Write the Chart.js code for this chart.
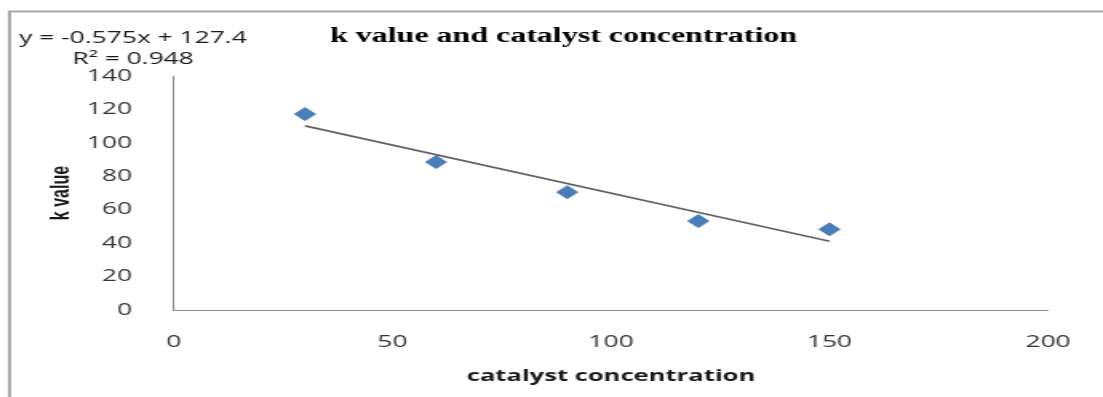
<!DOCTYPE html>
<html>
<head>
<meta charset="utf-8">
<title>k value and catalyst concentration</title>
<script src="https://cdn.jsdelivr.net/npm/chart.js@4.4.1/dist/chart.umd.min.js"></script>
<style>
  html, body { margin: 0; padding: 0; background: #ffffff; overflow: hidden; }
  #wrap { position: absolute; left: 0; top: 0; transform-origin: 0 0; }
  canvas { display: block; }
</style>
</head>
<body>
<div id="wrap"><canvas id="chart"></canvas></div>
<script>
// Measured data
const catalystConcentration = [30, 60, 90, 120, 150];
const kValue = [117.2, 88.5, 70.5, 53.2, 48.3];

// Linear trendline as reported on the chart
const trendSlope = -0.575;
const trendIntercept = 127.4;
const trendR2 = 0.948;

// Axis ticks
const xTicks = [0, 50, 100, 150, 200];
const yTicks = [0, 20, 40, 60, 80, 100, 120, 140];

const chartTitle = 'k value and catalyst concentration';
const xAxisTitle = 'catalyst concentration';
const yAxisTitle = 'k value';

// Drawing surface (the picture is widened horizontally)
const W = 690, H = 397, PAGE_W = 1103;
const STRETCH = PAGE_W / W;

const wrap = document.getElementById('wrap');
const canvas = document.getElementById('chart');
canvas.width = W; canvas.height = H;
canvas.style.width = W + 'px'; canvas.style.height = H + 'px';
wrap.style.width = W + 'px'; wrap.style.height = H + 'px';
wrap.style.transform = 'scaleX(' + STRETCH + ')';

const PLOT_LEFT = 108.8, PLOT_RIGHT = 655.6, PLOT_TOP = 76, PLOT_BOTTOM = 310;

const points = catalystConcentration.map((x, i) => ({ x: x, y: kValue[i] }));
const xFirst = catalystConcentration[0];
const xLast = catalystConcentration[catalystConcentration.length - 1];
const trendPoints = [
  { x: xFirst, y: trendSlope * xFirst + trendIntercept },
  { x: xLast, y: trendSlope * xLast + trendIntercept }
];

const equationLines = [
  'y = ' + trendSlope + 'x + ' + trendIntercept,
  'R\u00B2 = ' + trendR2
];

// Frame, chart title and trendline equation
const decorations = {
  id: 'decorations',
  beforeDraw(chart) {
    const ctx = chart.ctx;
    ctx.save();
    ctx.fillStyle = '#ffffff';
    ctx.fillRect(0, 0, W, H);
    ctx.strokeStyle = '#a8a8a8';
    ctx.lineWidth = 2;
    ctx.beginPath();
    ctx.moveTo(6, H + 2);
    ctx.lineTo(6, 11.5);
    ctx.lineTo(W + 2, 11.5);
    ctx.stroke();
    ctx.restore();
  },
  afterDraw(chart) {
    const ctx = chart.ctx;
    ctx.save();
    ctx.fillStyle = '#000000';
    ctx.textAlign = 'center';
    ctx.textBaseline = 'alphabetic';
    ctx.font = 'bold 20px "Liberation Serif"';
    ctx.fillText(chartTitle, 352.5, 42);
    ctx.fillStyle = '#1a1a1a';
    ctx.font = '16.5px "Open Sans"';
    ctx.fillText(equationLines[0], 83.2, 43.3);
    ctx.fillText(equationLines[1], 83.2, 64.3);
    ctx.restore();
  }
};

const tickFont = { family: 'Open Sans', size: 16.5 };

function draw() {
  new Chart(canvas, {
    type: 'scatter',
    data: {
      datasets: [
        {
          label: 'Linear trend',
          type: 'line',
          data: trendPoints,
          borderColor: '#626262',
          borderWidth: 1.7,
          pointRadius: 0,
          fill: false,
          tension: 0
        },
        {
          label: 'k value',
          data: points,
          pointStyle: 'rectRot',
          pointRadius: 6.5,
          backgroundColor: '#4a7ebb',
          borderColor: '#4a7ebb',
          borderWidth: 1
        }
      ]
    },
    options: {
      responsive: false,
      animation: false,
      devicePixelRatio: 1,
      layout: { padding: { top: PLOT_TOP, right: W - PLOT_RIGHT, bottom: 0, left: 0 } },
      plugins: {
        legend: { display: false },
        tooltip: { enabled: false },
        title: { display: false }
      },
      scales: {
        x: {
          type: 'linear',
          position: 'bottom',
          min: xTicks[0],
          max: xTicks[xTicks.length - 1],
          afterBuildTicks(scale) { scale.ticks = xTicks.map(v => ({ value: v })); },
          afterFit(scale) { scale.height = H - PLOT_BOTTOM; },
          grid: { display: false },
          border: { display: true, color: '#8c8c8c', width: 1 },
          ticks: { font: tickFont, color: '#333333', padding: 14 },
          title: {
            display: true,
            text: xAxisTitle,
            color: '#1a1a1a',
            font: { family: 'Open Sans', size: 16, weight: 'bold' },
            padding: { top: 0, bottom: 11.4 }
          }
        },
        y: {
          type: 'linear',
          position: 'left',
          min: yTicks[0],
          max: yTicks[yTicks.length - 1],
          afterBuildTicks(scale) { scale.ticks = yTicks.map(v => ({ value: v })); },
          afterFit(scale) { scale.width = PLOT_LEFT; },
          grid: { display: false },
          border: { display: true, color: '#8c8c8c', width: 1 },
          ticks: { font: tickFont, color: '#333333', padding: 18.2 },
          title: {
            display: true,
            text: yAxisTitle,
            color: '#1a1a1a',
            font: { family: 'Liberation Sans', size: 16, weight: 'bold' },
            padding: { top: 29.2, bottom: 0 }
          }
        }
      }
    },
    plugins: [decorations]
  });
}

const fontLoads = [
  'bold 20px "Liberation Serif"',
  '16.5px "Open Sans"',
  'bold 16px "Open Sans"',
  'bold 16px "Liberation Sans"'
].map(f => document.fonts.load(f));
Promise.all(fontLoads).then(draw, draw);
</script>
</body>
</html>
